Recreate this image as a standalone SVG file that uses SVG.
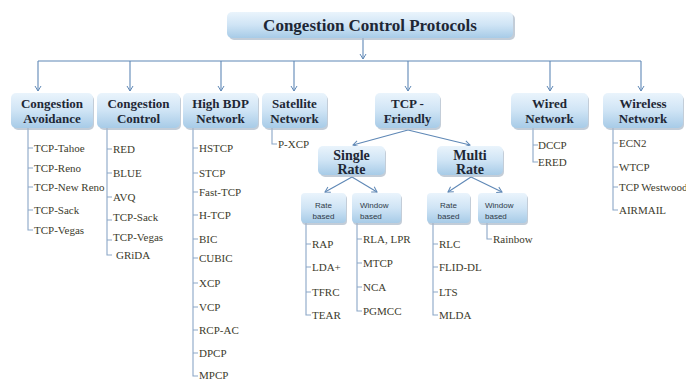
<svg xmlns="http://www.w3.org/2000/svg" width="686" height="381" viewBox="0 0 686 381">
<defs>
<linearGradient id="g" x1="0" y1="0" x2="0" y2="1">
<stop offset="0" stop-color="#eaf4fc"/>
<stop offset="0.5" stop-color="#cfe4f5"/>
<stop offset="1" stop-color="#a7cbe7"/>
</linearGradient>
<marker id="ah" markerWidth="8" markerHeight="8" refX="6" refY="4" orient="auto" markerUnits="userSpaceOnUse">
<path d="M1,1 L6,4 L1,7" fill="none" stroke="#5f88b6" stroke-width="1"/>
</marker>
<style>
.box{fill:url(#g);}
.sh{fill:#a9b8c8;opacity:0.7;}
.t,.tt,.ts,.it{font-family:'Liberation Serif','DejaVu Serif',serif;}
.t{font-weight:bold;font-size:13px;fill:#1e2735;text-anchor:middle;}
.tt{font-weight:bold;font-size:17px;fill:#1e2735;text-anchor:middle;}
.ts{font-weight:bold;font-size:14px;fill:#1e2735;text-anchor:middle;}
.sb{font-family:'Liberation Sans',Arial,sans-serif;font-size:8px;fill:#2f3a48;}
.it{font-size:11px;fill:#3c3b2c;}
.c{fill:none;stroke:#5f88b6;stroke-width:1.1;}
.l{fill:none;stroke:#8ba7c7;stroke-width:1.1;}
</style>
</defs>
<rect width="686" height="381" fill="#ffffff"/>

<g id="connectors">
<path class="c" d="M363,38 V59" marker-end="url(#ah)"/>
<path class="c" d="M38,61 H641"/>
<path class="c" d="M38,61 V91" marker-end="url(#ah)"/>
<path class="c" d="M130,61 V91" marker-end="url(#ah)"/>
<path class="c" d="M221,61 V91" marker-end="url(#ah)"/>
<path class="c" d="M294,61 V91" marker-end="url(#ah)"/>
<path class="c" d="M408,61 V91" marker-end="url(#ah)"/>
<path class="c" d="M550,61 V91" marker-end="url(#ah)"/>
<path class="c" d="M641,61 V91" marker-end="url(#ah)"/>
<path class="c" d="M408,130 L353,145" marker-end="url(#ah)"/>
<path class="c" d="M408,130 L470,145" marker-end="url(#ah)"/>
<path class="c" d="M352,177 L325,192" marker-end="url(#ah)"/>
<path class="c" d="M352,177 L377,192" marker-end="url(#ah)"/>
<path class="c" d="M471,177 L448,192" marker-end="url(#ah)"/>
<path class="c" d="M471,177 L502,192" marker-end="url(#ah)"/>
<path class="l" d="M28,128 V230 H33 M28,148 H33 M28,168 H33 M28,187 H33 M28,210 H33"/>
<path class="l" d="M107,128 V255 H112 M107,149 H112 M107,173 H112 M107,197 H112 M107,220 H112 M107,240 H112"/>
<path class="l" d="M193,128 V376 H198 M193,148 H198 M193,173 H198 M193,192 H198 M193,215 H198 M193,239 H198 M193,258 H198 M193,283 H198 M193,307 H198 M193,330 H198 M193,353 H198"/>
<path class="l" d="M272,128 V144 H277"/>
<path class="l" d="M306,223 V315 H311 M306,244 H311 M306,267 H311 M306,292 H311"/>
<path class="l" d="M357,223 V311 H362 M357,239 H362 M357,263 H362 M357,287 H362"/>
<path class="l" d="M433,223 V315 H438 M433,244 H438 M433,267 H438 M433,292 H438"/>
<path class="l" d="M487,223 V239 H492"/>
<path class="l" d="M533,128 V162 H538 M533,145 H538"/>
<path class="l" d="M613,128 V210 H618 M613,143 H618 M613,167 H618 M613,187 H618"/>
</g>

<g id="root">
<rect class="sh" x="229" y="14" width="286" height="26" rx="5"/>
<rect class="box" x="227" y="12" width="286" height="26" rx="5"/>
<text class="tt" x="370" y="31">Congestion Control Protocols</text>
</g>

<g id="congestion-avoidance">
<rect class="sh" x="13" y="95" width="81" height="35" rx="5"/>
<rect class="box" x="11" y="93" width="82" height="35" rx="5"/>
<text class="t" x="52" y="108">Congestion</text>
<text class="t" x="52" y="123">Avoidance</text>
</g>
<g id="congestion-control">
<rect class="sh" x="99" y="95" width="82" height="35" rx="5"/>
<rect class="box" x="97" y="93" width="83" height="35" rx="5"/>
<text class="t" x="138.5" y="108">Congestion</text>
<text class="t" x="138.5" y="123">Control</text>
</g>
<g id="high-bdp">
<rect class="sh" x="185" y="95" width="74" height="35" rx="5"/>
<rect class="box" x="183" y="93" width="75" height="35" rx="5"/>
<text class="t" x="220.5" y="108">High BDP</text>
<text class="t" x="220.5" y="123">Network</text>
</g>
<g id="satellite">
<rect class="sh" x="264" y="95" width="64" height="35" rx="5"/>
<rect class="box" x="262" y="93" width="65" height="35" rx="5"/>
<text class="t" x="294.5" y="108">Satellite</text>
<text class="t" x="294.5" y="123">Network</text>
</g>
<g id="tcp-friendly">
<rect class="sh" x="377" y="95" width="64" height="35" rx="5"/>
<rect class="box" x="375" y="93" width="65" height="35" rx="5"/>
<text class="t" x="407.5" y="108">TCP -</text>
<text class="t" x="407.5" y="123">Friendly</text>
</g>
<g id="wired">
<rect class="sh" x="513" y="95" width="76" height="35" rx="5"/>
<rect class="box" x="511" y="93" width="77" height="35" rx="5"/>
<text class="t" x="549.5" y="108">Wired</text>
<text class="t" x="549.5" y="123">Network</text>
</g>
<g id="wireless">
<rect class="sh" x="605" y="95" width="79" height="35" rx="5"/>
<rect class="box" x="603" y="93" width="80" height="35" rx="5"/>
<text class="t" x="643" y="108">Wireless</text>
<text class="t" x="643" y="123">Network</text>
</g>
<g id="single-rate">
<rect class="sh" x="320" y="148" width="66" height="29" rx="5"/>
<rect class="box" x="318" y="146" width="67" height="29" rx="5"/>
<text class="ts" x="351.5" y="160">Single</text>
<text class="ts" x="351.5" y="174">Rate</text>
</g>
<g id="multi-rate">
<rect class="sh" x="439" y="148" width="65" height="29" rx="5"/>
<rect class="box" x="437" y="146" width="66" height="29" rx="5"/>
<text class="ts" x="470" y="160">Multi</text>
<text class="ts" x="470" y="174">Rate</text>
</g>
<g id="sr-rate-based">
<rect class="sh" x="302" y="195" width="45" height="30" rx="4"/>
<rect class="box" x="301" y="193" width="45" height="30" rx="4"/>
<text class="sb" x="323.5" y="208" text-anchor="middle">Rate</text>
<text class="sb" x="323.5" y="219" text-anchor="middle">based</text>
</g>
<g id="sr-window-based">
<rect class="sh" x="353" y="195" width="49" height="30" rx="4"/>
<rect class="box" x="352" y="193" width="49" height="30" rx="4"/>
<text class="sb" x="360" y="208">Window</text>
<text class="sb" x="360" y="219">based</text>
</g>
<g id="mr-rate-based">
<rect class="sh" x="428" y="195" width="43" height="30" rx="4"/>
<rect class="box" x="427" y="193" width="43" height="30" rx="4"/>
<text class="sb" x="448.5" y="208" text-anchor="middle">Rate</text>
<text class="sb" x="448.5" y="219" text-anchor="middle">based</text>
</g>
<g id="mr-window-based">
<rect class="sh" x="479" y="195" width="49" height="30" rx="4"/>
<rect class="box" x="478" y="193" width="49" height="30" rx="4"/>
<text class="sb" x="485" y="208">Window</text>
<text class="sb" x="485" y="219">based</text>
</g>

<g id="items">
<text class="it" x="34" y="152">TCP-Tahoe</text>
<text class="it" x="34" y="172">TCP-Reno</text>
<text class="it" x="34" y="191">TCP-New Reno</text>
<text class="it" x="34" y="214">TCP-Sack</text>
<text class="it" x="34" y="234">TCP-Vegas</text>

<text class="it" x="113" y="153">RED</text>
<text class="it" x="113" y="177">BLUE</text>
<text class="it" x="113" y="201">AVQ</text>
<text class="it" x="113" y="221">TCP-Sack</text>
<text class="it" x="113" y="241">TCP-Vegas</text>
<text class="it" x="116" y="259">GRiDA</text>

<text class="it" x="199" y="152">HSTCP</text>
<text class="it" x="199" y="177">STCP</text>
<text class="it" x="199" y="196">Fast-TCP</text>
<text class="it" x="199" y="219">H-TCP</text>
<text class="it" x="199" y="243">BIC</text>
<text class="it" x="199" y="262">CUBIC</text>
<text class="it" x="199" y="287">XCP</text>
<text class="it" x="199" y="311">VCP</text>
<text class="it" x="199" y="334">RCP-AC</text>
<text class="it" x="199" y="357">DPCP</text>
<text class="it" x="199" y="379">MPCP</text>

<text class="it" x="278" y="148">P-XCP</text>

<text class="it" x="312" y="248">RAP</text>
<text class="it" x="312" y="271">LDA+</text>
<text class="it" x="312" y="296">TFRC</text>
<text class="it" x="312" y="319">TEAR</text>

<text class="it" x="363" y="243">RLA, LPR</text>
<text class="it" x="363" y="267">MTCP</text>
<text class="it" x="363" y="291">NCA</text>
<text class="it" x="363" y="315">PGMCC</text>

<text class="it" x="439" y="248">RLC</text>
<text class="it" x="439" y="271">FLID-DL</text>
<text class="it" x="439" y="296">LTS</text>
<text class="it" x="439" y="319">MLDA</text>

<text class="it" x="493" y="243">Rainbow</text>

<text class="it" x="538" y="149">DCCP</text>
<text class="it" x="538" y="166">ERED</text>

<text class="it" x="619" y="147">ECN2</text>
<text class="it" x="619" y="171">WTCP</text>
<text class="it" x="619" y="191">TCP Westwood</text>
<text class="it" x="619" y="214">AIRMAIL</text>
</g>
</svg>
